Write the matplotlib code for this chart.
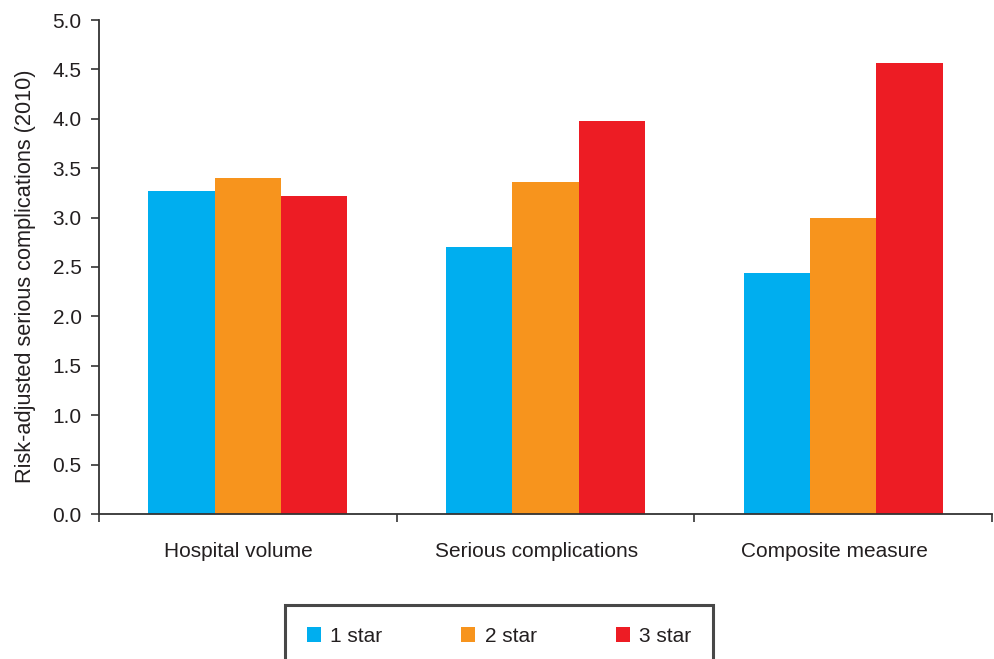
import matplotlib
matplotlib.use("Agg")
import matplotlib.pyplot as plt
import matplotlib.transforms as mtransforms
import numpy as np
from matplotlib.patches import Patch

categories = ["Hospital volume", "Serious complications", "Composite measure"]
series_names = ["1 star", "2 star", "3 star"]
one_star = [3.27, 2.70, 2.44]
two_star = [3.40, 3.36, 3.00]
three_star = [3.22, 3.98, 4.56]
colors = ["#00AEEF", "#F7941D", "#ED1C24"]

plt.rcParams['font.family'] = ['Liberation Sans', 'DejaVu Sans']
FS = 15

fig = plt.figure(figsize=(9.94, 6.59), dpi=100)
ax = fig.add_axes([99/994, 145/659, (992-99)/994, (514-20)/659])

x = np.arange(len(categories)) + 0.5
w = 0.223
for i, (vals, c) in enumerate(zip([one_star, two_star, three_star], colors)):
    ax.bar(x + (i - 1) * w, vals, width=w, color=c, edgecolor='none', zorder=2)

ax.set_xlim(0, 3)
ax.set_ylim(0, 5.0)
ax.set_yticks(np.arange(0, 5.01, 0.5))
ax.set_yticklabels([f"{v:.1f}" for v in np.arange(0, 5.01, 0.5)], fontsize=FS, color='#231f20')
ax.set_xticks([0, 1, 2, 3])
ax.set_xticklabels([])
ax.set_xticks(x, minor=True)
ax.set_xticklabels(categories, minor=True, fontsize=FS, color='#231f20')
ax.tick_params(axis='x', which='minor', length=0, pad=20)
ax.tick_params(axis='x', which='major', length=6, width=1.2, color='#333333', direction='out')
ax.tick_params(axis='y', length=6, width=1.2, color='#333333', direction='out', pad=6.5)

offset = mtransforms.ScaledTranslation(-9/100, 0, fig.dpi_scale_trans)
for lbl in ax.get_xticklabels(minor=True):
    lbl.set_transform(lbl.get_transform() + offset)

for s in ['top', 'right']:
    ax.spines[s].set_visible(False)
for s in ['left', 'bottom']:
    ax.spines[s].set_color('#333333')
    ax.spines[s].set_linewidth(1.3)

ax.set_ylabel("Risk-adjusted serious complications (2010)", fontsize=15.7, color='#231f20')
ax.yaxis.set_label_coords((36 - 99) / 893, (514 - 276) / 494)

handles = [Patch(facecolor=c, edgecolor='none') for c in colors]
leg = fig.legend(handles, series_names, loc='upper center', bbox_to_anchor=(0.502, 1 - 605/659),
                 ncol=3, fontsize=FS, frameon=True, fancybox=False, borderaxespad=0,
                 handlelength=0.67, handleheight=0.67, handletextpad=0.45, columnspacing=3.8,
                 borderpad=1.05)
leg.get_frame().set_edgecolor('#1a1a1a')
leg.get_frame().set_linewidth(2.2)
for t in leg.get_texts():
    t.set_color('#231f20')

fig.savefig("out.png", dpi=100)
